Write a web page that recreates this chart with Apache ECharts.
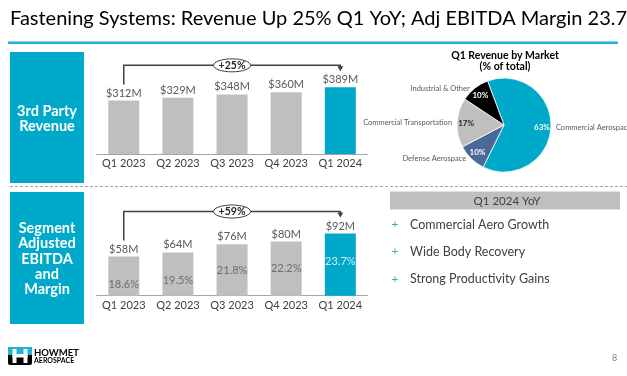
<!DOCTYPE html>
<html><head><meta charset="utf-8">
<script src="https://cdn.jsdelivr.net/npm/echarts@6/dist/echarts.min.js"></script>
<style>html,body{margin:0;padding:0;background:#fff}#c{width:627px;height:376px}</style>
</head><body><div id="c"></div>
<script>
const categories = ['Q1 2023', 'Q2 2023', 'Q3 2023', 'Q4 2023', 'Q1 2024'];
const revenue = [312, 329, 348, 360, 389];
const ebitda = [58, 64, 76, 80, 92];
const margin = [18.6, 19.5, 21.8, 22.2, 23.7];
const revenueGrowth = '+25%';
const ebitdaGrowth = '+59%';
const marketNames = ['Commercial Aerospace', 'Defense Aerospace', 'Commercial Transportation', 'Industrial & Other'];
const marketShare = [63, 10, 17, 10];
const marketColors = ['#00A9C9', '#4A6898', '#BFBFBF', '#000000'];
const marketInnerLabelColors = ['#ffffff', '#ffffff', '#262626', '#ffffff'];
const yoyDrivers = ['Commercial Aero Growth', 'Wide Body Recovery', 'Strong Productivity Gains'];
const titleText = 'Fastening Systems: Revenue Up 25% Q1 YoY; Adj EBITDA Margin 23.7%';

const FONT = 'Lato';
const CYAN = '#00A9C9';
const GREY = '#BFBFBF';
const last = categories.length - 1;

const chart = echarts.init(document.getElementById('c'), null, {renderer: 'canvas'});

function barData(vals) {
  return vals.map((v, i) => ({value: v, itemStyle: {color: i === last ? CYAN : GREY}}));
}
function xAxisFor(g) {
  return {
    type: 'category', gridIndex: g, data: categories,
    axisLine: {lineStyle: {color: '#A6A6A6', width: 1}},
    axisTick: {show: false},
    axisLabel: {color: '#404040', fontSize: 11, fontFamily: FONT, margin: 4, interval: 0}
  };
}

const option = {
  animation: false,
  textStyle: {fontFamily: FONT},
  grid: [
    {left: 96.7, right: 259.6, top: 51.2, bottom: 222},
    {left: 96.7, right: 259.6, top: 194.3, bottom: 80.3}
  ],
  xAxis: [xAxisFor(0), xAxisFor(1)],
  yAxis: [
    {type: 'value', gridIndex: 0, min: 0, max: 600, show: false},
    {type: 'value', gridIndex: 1, min: 0, max: 150, show: false},
    {type: 'value', gridIndex: 1, min: 16.19, max: 38.38, show: false}
  ],
  series: [
    {
      type: 'bar', xAxisIndex: 0, yAxisIndex: 0, barWidth: 31,
      data: barData(revenue),
      label: {show: true, position: 'top', distance: 2, color: '#595959', fontSize: 11, fontFamily: FONT,
        formatter: p => '$' + p.value + 'M'}
    },
    {
      type: 'bar', xAxisIndex: 1, yAxisIndex: 1, barWidth: 31,
      data: barData(ebitda),
      label: {show: true, position: 'top', distance: 2, color: '#595959', fontSize: 11, fontFamily: FONT,
        formatter: p => '$' + p.value + 'M'}
    },
    {
      type: 'scatter', xAxisIndex: 1, yAxisIndex: 2, symbolSize: 0, silent: true,
      data: margin.map((v, i) => ({value: v, label: {color: i === last ? '#ffffff' : '#595959'}})),
      label: {show: true, position: 'inside', fontSize: 11, fontFamily: FONT,
        formatter: p => p.value.toFixed(1) + '%'}
    },
    {
      type: 'pie', center: [504, 125], radius: [0, 47], startAngle: 110.5, clockwise: true, silent: true,
      itemStyle: {borderColor: '#ffffff', borderWidth: 0.8},
      data: marketNames.map((n, i) => ({name: n, value: marketShare[i], itemStyle: {color: marketColors[i]}})),
      label: {show: true, position: 'outside', color: '#595959', fontSize: 7.5, fontFamily: FONT, formatter: '{b}',
        overflow: 'none'},
      labelLine: {show: false, length: 0, length2: 0}
    },
    {
      type: 'pie', center: [504, 125], radius: [18, 52], startAngle: 110.5, clockwise: true, silent: true,
      itemStyle: {color: 'transparent'},
      data: marketNames.map((n, i) => ({name: n, value: marketShare[i],
        label: {color: marketInnerLabelColors[i]}})),
      label: {show: true, position: 'inside', fontSize: 8, fontWeight: 'bold', fontFamily: FONT,
        overflow: 'none', formatter: p => p.value + '%'},
      labelLine: {show: false}
    }
  ]
};
chart.setOption(option);

function bracket(seriesIndex, vals, text) {
  const pts = vals.map((v, i) => chart.convertToPixel({seriesIndex: seriesIndex}, [i, v]));
  const p0 = pts[0], p1 = pts[pts.length - 1];
  const topY = Math.min(...pts.map(p => p[1])) - 22;
  const midX = (p0[0] + p1[0]) / 2;
  return [
    {type: 'polyline', shape: {points: [[p0[0], p0[1] - 16], [p0[0], topY], [p1[0], topY], [p1[0], p1[1] - 20]]},
      style: {stroke: '#404040', lineWidth: 1.5, fill: null}},
    {type: 'polygon', shape: {points: [[p1[0] - 3, p1[1] - 21], [p1[0] + 3, p1[1] - 21], [p1[0], p1[1] - 16]]},
      style: {fill: '#404040'}},
    {type: 'ellipse', shape: {cx: midX, cy: topY, rx: 18.5, ry: 6.5},
      style: {fill: '#ffffff', stroke: '#404040', lineWidth: 1}},
    {type: 'text', x: midX, y: topY, style: {text: text, fill: '#262626', font: 'bold 10.5px "' + FONT + '"',
      textAlign: 'center', textVerticalAlign: 'middle'}}
  ];
}

const g = [
  {type: 'text', x: 10, y: 19, style: {text: titleText, fill: '#000000', font: '20px "' + FONT + '"', textVerticalAlign: 'middle'}},
  {type: 'rect', shape: {x: 8, y: 41.5, width: 610, height: 2.5}, style: {fill: '#1FB4D6'}},
  {type: 'rect', shape: {x: 10, y: 52, width: 74, height: 131}, style: {fill: CYAN}},
  {type: 'text', x: 47, y: 119, style: {text: '3rd Party\nRevenue', fill: '#ffffff', font: 'bold 14.5px "' + FONT + '"',
    lineHeight: 15, textAlign: 'center', textVerticalAlign: 'middle'}},
  {type: 'line', shape: {x1: 10, y1: 186.5, x2: 627, y2: 186.5}, style: {stroke: '#A6A6A6', lineWidth: 1, lineDash: [3, 2]}},
  {type: 'rect', shape: {x: 10, y: 192, width: 74, height: 132}, style: {fill: CYAN}},
  {type: 'text', x: 47, y: 259, style: {text: 'Segment\nAdjusted\nEBITDA\nand\nMargin', fill: '#ffffff', font: 'bold 14.5px "' + FONT + '"',
    lineHeight: 15.2, textAlign: 'center', textVerticalAlign: 'middle'}},
  {type: 'text', x: 505, y: 61, style: {text: 'Q1 Revenue by Market\n(% of total)', fill: '#000000', font: 'bold 10.5px "' + FONT + '"',
    lineHeight: 11, textAlign: 'center', textVerticalAlign: 'middle'}},
  {type: 'rect', shape: {x: 390, y: 191.5, width: 230, height: 18}, style: {fill: GREY}},
  {type: 'text', x: 507, y: 201, style: {text: 'Q1 2024 YoY', fill: '#404040', font: '11.5px "' + FONT + '"',
    textAlign: 'center', textVerticalAlign: 'middle'}},
  {type: 'text', x: 612, y: 358, style: {text: '8', fill: '#7F7F7F', font: '9px "' + FONT + '"', textVerticalAlign: 'middle'}},
  // logo
  {type: 'rect', shape: {x: 8, y: 347, width: 24, height: 18, r: 2}, style: {fill: '#000000'}},
  {type: 'rect', shape: {x: 8, y: 347, width: 24, height: 8, r: [2, 2, 0, 0]}, style: {fill: '#1FB4D6'}},
  {type: 'rect', shape: {x: 12.5, y: 349, width: 4, height: 14}, style: {fill: '#ffffff'}},
  {type: 'rect', shape: {x: 23.5, y: 349, width: 4, height: 14}, style: {fill: '#ffffff'}},
  {type: 'rect', shape: {x: 12.5, y: 354, width: 15, height: 3.5}, style: {fill: '#ffffff'}},
  {type: 'text', x: 34, y: 353, style: {text: 'HOWMET', fill: '#000000', font: 'bold 9.5px "' + FONT + '"', textVerticalAlign: 'middle'}},
  {type: 'text', x: 34, y: 361, style: {text: 'AEROSPACE', fill: '#000000', font: 'bold 7px "' + FONT + '"', textVerticalAlign: 'middle'}}
];
const bulletY = [224.5, 251.5, 279];
yoyDrivers.forEach((t, i) => {
  g.push({type: 'text', x: 395, y: bulletY[i], style: {text: '+', fill: '#3CB878', font: '12px "' + FONT + '"', textAlign: 'center', textVerticalAlign: 'middle'}});
  g.push({type: 'text', x: 410, y: bulletY[i], style: {text: t, fill: '#404040', font: '12.5px "' + FONT + '"', textVerticalAlign: 'middle'}});
});
chart.setOption({graphic: g.concat(bracket(0, revenue, revenueGrowth), bracket(1, ebitda, ebitdaGrowth))});
</script></body></html>
